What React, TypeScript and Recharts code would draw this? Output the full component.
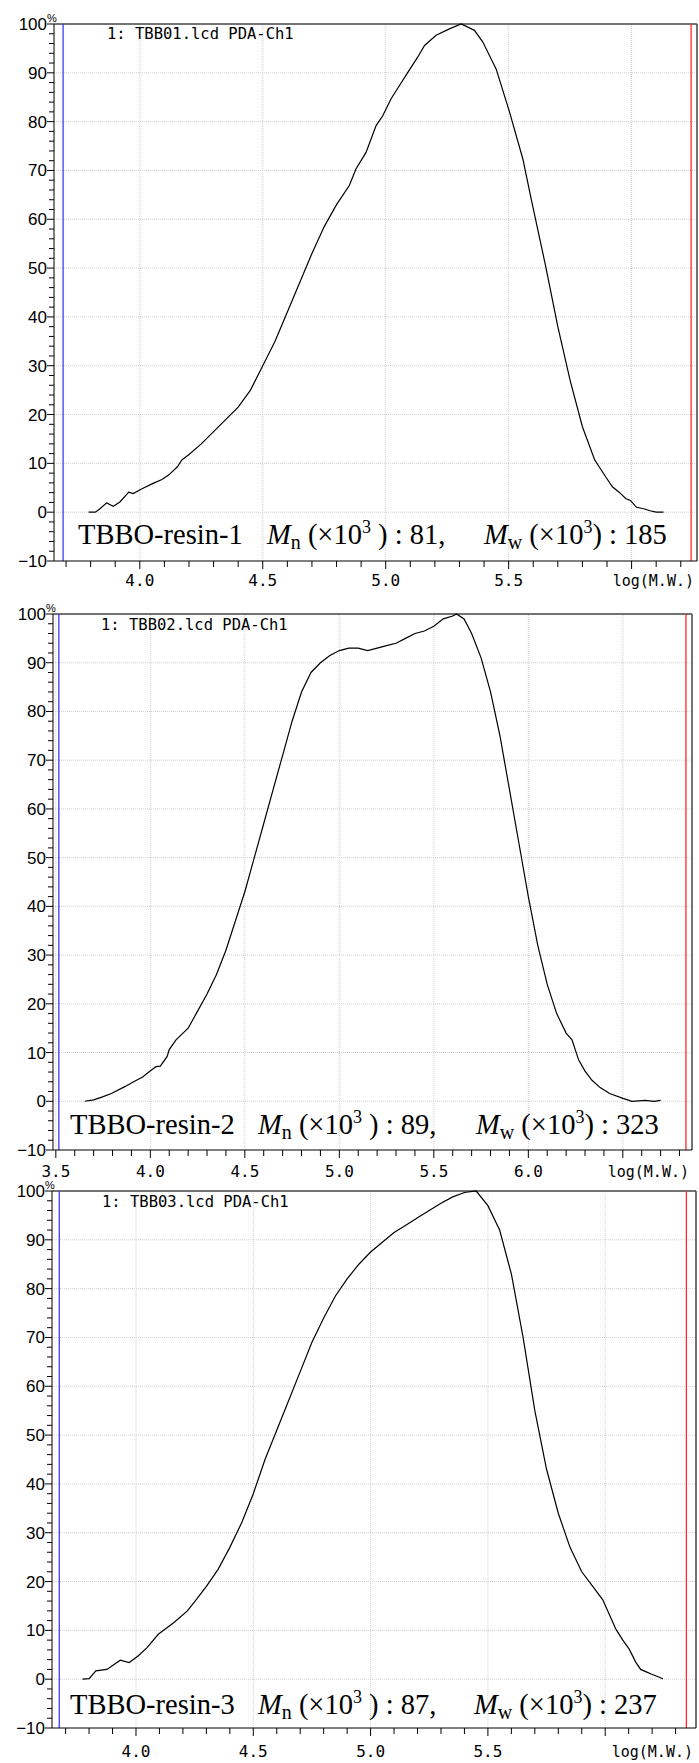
import React from 'react';
import { LineChart, Line, XAxis, YAxis, ReferenceLine } from 'recharts';

// ---- data (log M.W. vs. normalised intensity %) ----
const logMW1 = [3.792, 3.819, 3.838, 3.865, 3.892, 3.919, 3.955, 3.973, 4.009, 4.054, 4.09, 4.117, 4.153, 4.171, 4.2, 4.25, 4.3, 4.35, 4.4, 4.45, 4.5, 4.55, 4.6, 4.65, 4.7, 4.75, 4.8, 4.852, 4.879, 4.92, 4.961, 4.988, 5.022, 5.056, 5.09, 5.13, 5.158, 5.205, 5.259, 5.307, 5.361, 5.395, 5.449, 5.504, 5.558, 5.592, 5.65, 5.7, 5.75, 5.8, 5.85, 5.868, 5.895, 5.922, 5.949, 5.976, 5.995, 6.02, 6.049, 6.075, 6.1, 6.13];
const pct1 = [0, 0, 0.7, 1.9, 1.2, 2.1, 4.1, 3.8, 4.8, 5.9, 6.7, 7.6, 9.3, 10.7, 11.8, 14, 16.5, 19, 21.5, 25, 30, 35, 41, 47, 53, 58.5, 63, 66.9, 70.3, 73.7, 79.2, 81.2, 84.7, 87.4, 90.1, 93.2, 95.6, 97.7, 99, 100, 98.7, 96.3, 90.8, 81.9, 72.3, 64.1, 50.5, 38, 27, 17.5, 10.7, 9.3, 7.2, 5.2, 4.1, 2.8, 2.4, 1.0, 0.7, 0.3, 0, 0];

const logMW2 = [3.653, 3.7, 3.747, 3.794, 3.865, 3.912, 3.959, 4.006, 4.03, 4.053, 4.089, 4.1, 4.136, 4.2, 4.25, 4.3, 4.35, 4.4, 4.45, 4.5, 4.55, 4.6, 4.65, 4.7, 4.75, 4.8, 4.85, 4.9, 4.95, 5.0, 5.05, 5.1, 5.15, 5.2, 5.25, 5.3, 5.35, 5.4, 5.45, 5.5, 5.55, 5.6, 5.62, 5.66, 5.7, 5.75, 5.8, 5.85, 5.9, 5.95, 6.0, 6.05, 6.1, 6.15, 6.2, 6.231, 6.266, 6.3, 6.337, 6.38, 6.43, 6.501, 6.548, 6.618, 6.665, 6.7];
const pct2 = [0, 0.3, 0.9, 1.6, 3.0, 4.0, 5.0, 6.4, 7.1, 7.2, 9.2, 10.6, 12.6, 15, 18.5, 22, 26, 31, 37, 43, 50, 57, 64, 71, 78, 84, 88, 90, 91.5, 92.5, 93, 93, 92.5, 93, 93.5, 94, 95, 96, 96.5, 97.5, 99, 99.6, 100, 99, 96, 91, 84, 75, 64, 53, 42, 32, 24, 18, 14, 12.6, 8.5, 6.2, 4.3, 2.8, 1.6, 0.6, 0, 0.2, 0, 0.2];

const logMW3 = [3.772, 3.8, 3.829, 3.876, 3.933, 3.971, 4.01, 4.048, 4.095, 4.162, 4.219, 4.257, 4.3, 4.35, 4.4, 4.45, 4.5, 4.55, 4.6, 4.65, 4.7, 4.75, 4.8, 4.85, 4.9, 4.95, 5.0, 5.05, 5.1, 5.15, 5.2, 5.25, 5.3, 5.35, 5.4, 5.45, 5.5, 5.55, 5.6, 5.65, 5.7, 5.75, 5.8, 5.85, 5.9, 5.95, 5.989, 6.02, 6.046, 6.075, 6.103, 6.13, 6.151, 6.175, 6.198, 6.22, 6.246];
const pct3 = [0, 0.1, 1.7, 2.0, 3.9, 3.4, 4.8, 6.5, 9.2, 11.6, 14, 16.3, 19, 22.5, 27, 32, 38, 45, 51, 57, 63, 69, 74, 78.5, 82, 85, 87.5, 89.5, 91.5, 93, 94.5, 96, 97.5, 98.8, 99.7, 100, 97, 92, 83, 70, 55, 43, 34, 27, 22, 18.8, 16.3, 13, 10.2, 8, 6.1, 3.5, 2.0, 1.5, 1.0, 0.6, 0.1];

const yGridLines = [0, 10, 20, 30, 40, 50, 60, 70, 80, 90];

const range = (a: number, b: number, step: number) => {
  const out: number[] = [];
  for (let i = 0; a + i * step <= b + 1e-9; i++) out.push(Math.round((a + i * step) * 100) / 100);
  return out;
};
const yAllTicks = range(-10, 100, 2);

const zip = (xs: number[], ys: number[]) => xs.map((x, i) => ({ x, y: ys[i] }));

const TICK_FONT = "'Liberation Sans', Arial, sans-serif";
const MONO_FONT = "'DejaVu Sans Mono', monospace";
const SERIF_FONT = "'Liberation Serif', 'Times New Roman', serif";

const isMajorX = (v: number) => Math.abs(v * 2 - Math.round(v * 2)) < 1e-6;

const XTick = (props: any) => {
  const { x, y, payload, labelDy, lastMajor } = props;
  const v = payload.value;
  const major = isMajorX(v);
  return (
    <g>
      <line x1={x} x2={x} y1={y} y2={y + (major ? 8 : 6)} stroke="#000" strokeWidth={1} />
      {major && v < lastMajor - 1e-6 && (
        <text x={x} y={y + labelDy} textAnchor="middle" fontSize={16} fontFamily={MONO_FONT} fill="#000">
          {v.toFixed(1)}
        </text>
      )}
    </g>
  );
};

const YTick = (props: any) => {
  const { x, y, payload } = props;
  const v = payload.value;
  const major = v % 10 === 0;
  return (
    <g>
      <line x1={x - (major ? 7 : 5)} x2={x} y1={y} y2={y} stroke="#000" strokeWidth={1} />
      {major && (
        <text x={x - 7} y={y + 6} textAnchor="end" fontSize={17} fontFamily={TICK_FONT} fill="#000">
          {v < 0 ? '\u2212' + Math.abs(v) : String(v)}
        </text>
      )}
      {v === 100 && (
        <text x={x - 7} y={y - 2} fontSize={11} fontFamily={TICK_FONT} fill="#000">%</text>
      )}
    </g>
  );
};

interface PanelProps {
  top: number;
  height: number;
  marginBottom: number;
  yAxisWidth: number;
  marginRight: number;
  xDomain: [number, number];
  xTicks: number[];
  lastMajor: number;
  labelDy: number;
  blueAt: number;
  redAt: number;
  xs: number[];
  ys: number[];
}

const Panel: React.FC<PanelProps> = (p) => {
  const data = zip(p.xs, p.ys);
  const majors = p.xTicks.filter(isMajorX);
  return (
    <div style={{ position: 'absolute', left: 0, top: p.top }}>
      <LineChart width={699} height={p.height} data={data} margin={{ top: 24, right: p.marginRight, bottom: p.marginBottom, left: 0 }}>
        {yGridLines.map((g) => (
          <ReferenceLine key={'h' + g} y={g} stroke="#cfcfcf" strokeDasharray="1 1" />
        ))}
        {majors.map((g) => (
          <ReferenceLine key={'v' + g} x={g} stroke="#cfcfcf" strokeDasharray="1 1" />
        ))}
        <ReferenceLine y={100} stroke="#444" strokeWidth={1.5} />
        <ReferenceLine x={p.xDomain[1]} stroke="#444" strokeWidth={1.5} />
        <ReferenceLine x={p.blueAt} stroke="#3a3aff" strokeWidth={1.3} />
        <ReferenceLine x={p.redAt} stroke="#ff2a2a" strokeWidth={1.3} />
        <XAxis
          type="number"
          dataKey="x"
          domain={p.xDomain}
          allowDataOverflow
          ticks={p.xTicks}
          interval={0}
          height={30}
          tickSize={0}
          tickMargin={0}
          tickLine={false}
          axisLine={{ stroke: '#000' }}
          tick={<XTick labelDy={p.labelDy} lastMajor={p.lastMajor} />}
          label={{
            content: (lp: any) => {
              const vb = lp.viewBox || {};
              return (
                <text
                  x={vb.x + vb.width - 3}
                  y={vb.y + p.labelDy}
                  textAnchor="end"
                  fontSize={15}
                  fontFamily={MONO_FONT}
                  fill="#000"
                >
                  log(M.W.)
                </text>
              );
            },
          }}
        />
        <YAxis
          type="number"
          domain={[-10, 100]}
          ticks={yAllTicks}
          interval={0}
          width={p.yAxisWidth}
          tickSize={0}
          tickMargin={0}
          tickLine={false}
          axisLine={{ stroke: '#000' }}
          tick={<YTick />}
        />
        <Line type="linear" dataKey="y" stroke="#000" strokeWidth={1.2} dot={false} isAnimationActive={false} />
      </LineChart>
    </div>
  );
};

interface NoteProps {
  baseline: number;
  xHead: number;
  yHead: number;
  head: string;
  xName: number;
  xMn: number;
  xMw: number;
  name: string;
  mn: string;
  mw: string;
}

const Note: React.FC<NoteProps> = (n) => (
  <g>
    <text x={n.xHead} y={n.yHead} fontSize={15.5} fontFamily={MONO_FONT} fill="#000">{n.head}</text>
    <text x={n.xName} y={n.baseline} fontSize={28.5} fontFamily={SERIF_FONT} fill="#000">{n.name}</text>
    <text x={n.xMn} y={n.baseline} fontSize={28.5} fontFamily={SERIF_FONT} fill="#000">
      <tspan fontStyle="italic">M</tspan>
      <tspan fontSize={20} dy={5}>n</tspan>
      <tspan dy={-5}> (×10</tspan>
      <tspan fontSize={18} dy={-11}>3</tspan>
      <tspan dy={11}> ) : {n.mn},</tspan>
    </text>
    <text x={n.xMw} y={n.baseline} fontSize={28.5} fontFamily={SERIF_FONT} fill="#000">
      <tspan fontStyle="italic">M</tspan>
      <tspan fontSize={20} dy={5}>w</tspan>
      <tspan dy={-5}> (×10</tspan>
      <tspan fontSize={18} dy={-11}>3</tspan>
      <tspan dy={11}>) : {n.mw}</tspan>
    </text>
  </g>
);

export default function App() {
  return (
    <div style={{ position: 'absolute', left: 0, top: 0, width: 699, height: 1763, background: '#fff', overflow: 'hidden' }}>
      <Panel top={0} height={605} marginBottom={14} yAxisWidth={54} marginRight={2} xDomain={[3.651, 6.266]} xTicks={range(3.7, 6.2, 0.1)} lastMajor={6.0} labelDy={25} blueAt={3.688} redAt={6.242} xs={logMW1} ys={pct1} />
      <Panel top={590} height={604} marginBottom={14} yAxisWidth={53} marginRight={7} xDomain={[3.485, 6.866]} xTicks={range(3.5, 6.8, 0.1)} lastMajor={6.5} labelDy={27} blueAt={3.516} redAt={6.834} xs={logMW2} ys={pct2} />
      <Panel top={1167} height={596} marginBottom={5} yAxisWidth={52} marginRight={3} xDomain={[3.642, 6.387]} xTicks={range(3.7, 6.3, 0.1)} lastMajor={6.0} labelDy={29} blueAt={3.673} redAt={6.346} xs={logMW3} ys={pct3} />
      <svg width={699} height={1763} style={{ position: 'absolute', left: 0, top: 0, pointerEvents: 'none' }}>
        <Note baseline={544} xHead={107} yHead={39} head="1: TBB01.lcd PDA-Ch1" xName={78} xMn={267} xMw={484} name="TBBO-resin-1" mn="81" mw="185" />
        <Note baseline={1134} xHead={101} yHead={630} head="1: TBB02.lcd PDA-Ch1" xName={70} xMn={258} xMw={476} name="TBBO-resin-2" mn="89" mw="323" />
        <Note baseline={1714} xHead={102} yHead={1207} head="1: TBB03.lcd PDA-Ch1" xName={70} xMn={258} xMw={474} name="TBBO-resin-3" mn="87" mw="237" />
      </svg>
    </div>
  );
}
